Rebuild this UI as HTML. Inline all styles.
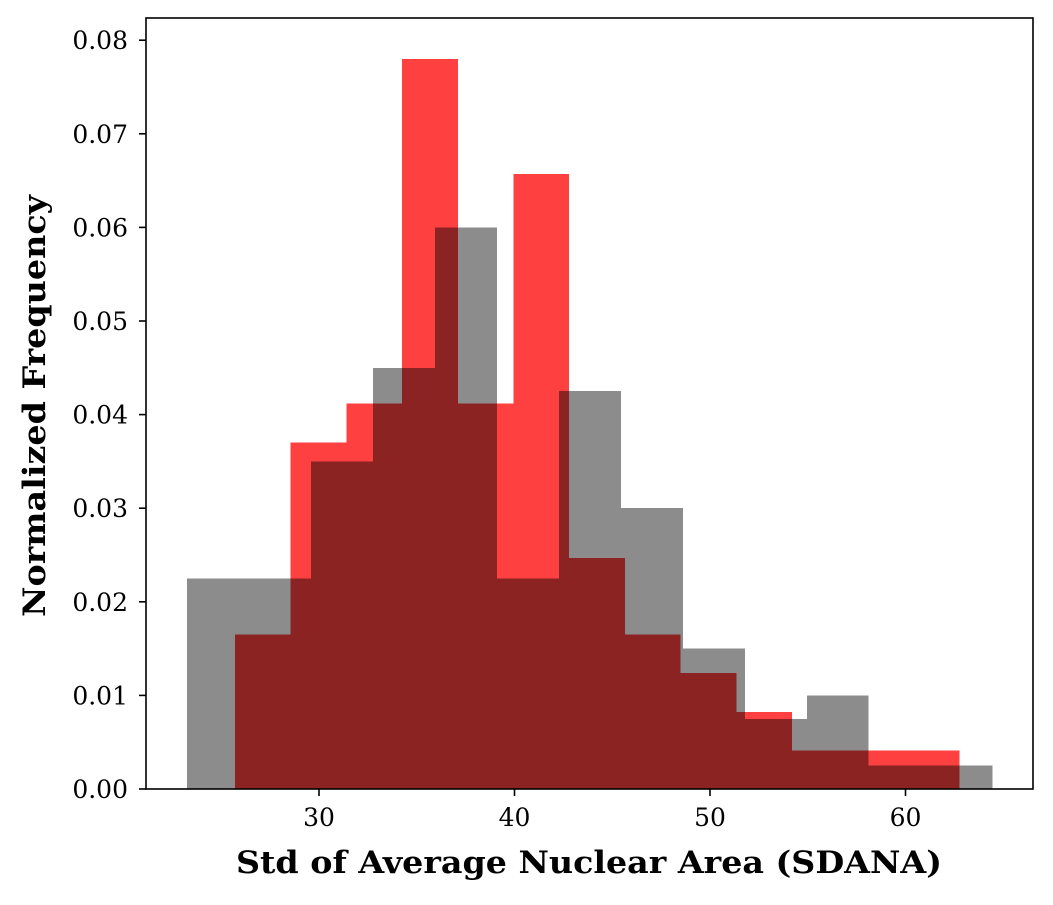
<!DOCTYPE html>
<html><head><meta charset="utf-8"><style>
body{margin:0;background:#fff;}
svg text{font-family:"DejaVu Serif","Liberation Serif",serif;}
</style></head><body>
<svg id="chart" width="1053" height="900" xmlns="http://www.w3.org/2000/svg">
<g id="bars"></g>
<rect x="146" y="18" width="887" height="771" fill="none" stroke="#000" stroke-width="1.6"/>
<g id="ticks"></g>
<text x="589" y="873" font-size="31" font-weight="bold" text-anchor="middle" textLength="706" lengthAdjust="spacingAndGlyphs">Std of Average Nuclear Area (SDANA)</text>
<text transform="translate(45,406) rotate(-90)" font-size="31" font-weight="bold" text-anchor="middle" textLength="422" lengthAdjust="spacingAndGlyphs">Normalized Frequency</text>
</svg>
<script>
const redStart = 25.7, redWidth = 2.85;
const redValues = [0.0165,0.037,0.0412,0.078,0.0412,0.0657,0.0247,0.0165,0.0124,0.0082,0.0041,0.0041,0.0041];
const grayStart = 23.25, grayWidth = 3.17;
const grayValues = [0.0225,0.0225,0.035,0.045,0.06,0.0225,0.0425,0.03,0.015,0.0075,0.01,0.0025,0.0025];
const xTicks = [30,40,50,60];
const yTicks = [0,0.01,0.02,0.03,0.04,0.05,0.06,0.07,0.08];
const yTickLabels = ["0.00","0.01","0.02","0.03","0.04","0.05","0.06","0.07","0.08"];

const X = v => 319 + (v - 30) * 19.55;
const Y = v => 789 - v * 9360;
const NS = "http://www.w3.org/2000/svg";
const bars = document.getElementById('bars');
const ticks = document.getElementById('ticks');

function drawSeries(start, width, vals, fill, op, name){
  let d = '';
  vals.forEach((v,i)=>{
    const x0 = X(start + i*width), x1 = X(start + (i+1)*width);
    d += `M${x0},${Y(0)}H${x1}V${Y(v)}H${x0}Z`;
  });
  const p = document.createElementNS(NS,'path');
  p.setAttribute('d', d);
  p.setAttribute('fill', fill);
  p.setAttribute('shape-rendering', 'crispEdges');
  
  
  const g = document.createElementNS(NS,'g');
  g.setAttribute('opacity', op);
  g.appendChild(p);
  bars.appendChild(g);
}
drawSeries(redStart, redWidth, redValues, '#ff0000', 0.75, 'red');
drawSeries(grayStart, grayWidth, grayValues, '#000000', 0.45, 'gray');

xTicks.forEach(t=>{
  const l = document.createElementNS(NS,'line');
  l.setAttribute('x1',X(t)); l.setAttribute('x2',X(t)); l.setAttribute('y1',789); l.setAttribute('y2',796);
  l.setAttribute('stroke','#000'); l.setAttribute('stroke-width','1.6');
  
  
  ticks.appendChild(l);
  const tx = document.createElementNS(NS,'text');
  tx.setAttribute('x',X(t)); tx.setAttribute('y',826); tx.setAttribute('font-size','25'); tx.setAttribute('text-anchor','middle');
  tx.textContent = t;
  
  
  ticks.appendChild(tx);
});
yTicks.forEach((t,i)=>{
  const l = document.createElementNS(NS,'line');
  l.setAttribute('x1',139); l.setAttribute('x2',146); l.setAttribute('y1',Y(t)); l.setAttribute('y2',Y(t));
  l.setAttribute('stroke','#000'); l.setAttribute('stroke-width','1.6');
  
  
  ticks.appendChild(l);
  const tx = document.createElementNS(NS,'text');
  tx.setAttribute('x',128); tx.setAttribute('y',Y(t)+9); tx.setAttribute('font-size','25'); tx.setAttribute('text-anchor','end');
  tx.textContent = yTickLabels[i];
  
  
  ticks.appendChild(tx);
});
</script>
</body></html>
